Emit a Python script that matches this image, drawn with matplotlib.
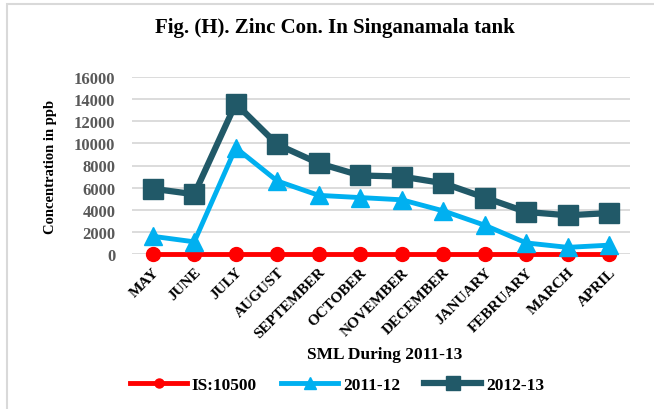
import matplotlib
matplotlib.use("Agg")
import matplotlib.pyplot as plt
from matplotlib.patches import Rectangle

months = ["MAY", "JUNE", "JULY", "AUGUST", "SEPTEMBER", "OCTOBER", "NOVEMBER",
          "DECEMBER", "JANUARY", "FEBRUARY", "MARCH", "APRIL"]
is_10500 = [0, 0, 0, 0, 0, 0, 0, 0, 0, 0, 0, 0]
y2011_12 = [1600, 1100, 9600, 6600, 5300, 5100, 4900, 3900, 2600, 1000, 600, 800]
y2012_13 = [5900, 5400, 13600, 9900, 8200, 7100, 7000, 6400, 5100, 3800, 3500, 3700]
yticks = [0, 2000, 4000, 6000, 8000, 10000, 12000, 14000, 16000]

plt.rcParams["font.family"] = ["Liberation Serif", "DejaVu Serif"]
plt.rcParams["font.weight"] = "bold"

fig = plt.figure(figsize=(6.54, 4.10), dpi=100)
ax = fig.add_axes([132 / 654, 1 - 255 / 410, 498 / 654, 177 / 410])

x = list(range(len(months)))
ax.plot(x, is_10500, "-o", color="#ff0000", lw=3.5, ms=10, label="IS:10500",
        zorder=3, clip_on=False)
ax.plot(x, y2011_12, "-^", color="#00b0f0", lw=3.5, ms=13, label="2011-12",
        zorder=4, clip_on=False)
ax.plot(x, y2012_13, "-s", color="#215968", lw=4.5, ms=15, label="2012-13",
        zorder=5, clip_on=False)

ax.set_xlim(-0.5, len(months) - 0.5)
ax.set_ylim(0, 16000)
ax.set_yticks(yticks)
ax.set_yticklabels([str(v) for v in yticks], color="#595959", fontsize=12, fontweight="bold")
ax.set_xticks(x)
ax.set_xticklabels(months, rotation=45, ha="right", rotation_mode="anchor",
                   fontsize=11, fontweight="bold")
ax.tick_params(axis="y", length=0, pad=12)
ax.tick_params(axis="x", length=0, pad=8)
ax.grid(axis="y", color="#d9d9d9", lw=1.3)
ax.set_axisbelow(True)
for s in ax.spines.values():
    s.set_visible(False)

ax.set_ylabel("Concentration in ppb", fontsize=10.5, fontweight="bold", labelpad=12)
fig.text(335 / 654, 1 - 28 / 410, "Fig. (H). Zinc Con. In Singanamala tank",
         ha="center", va="center", fontsize=15, fontweight="bold")
fig.text(385 / 654, 1 - 355 / 410, "SML During 2011-13", ha="center", va="center",
         fontsize=12.5, fontweight="bold")

fig.legend(loc="center", bbox_to_anchor=(337 / 654, 1 - 386 / 410), ncol=3, frameon=False,
           handlelength=3.3, columnspacing=1.4, handletextpad=0.25,
           prop={"weight": "bold", "size": 12.5}, markerscale=0.65)

fig.patches.append(Rectangle((7 / 654, -0.1), 1.2, 1 - 5 / 410 + 0.1, transform=fig.transFigure,
                             fill=False, edgecolor="#d9d9d9", lw=1.5))

fig.savefig("out.png", dpi=100)
